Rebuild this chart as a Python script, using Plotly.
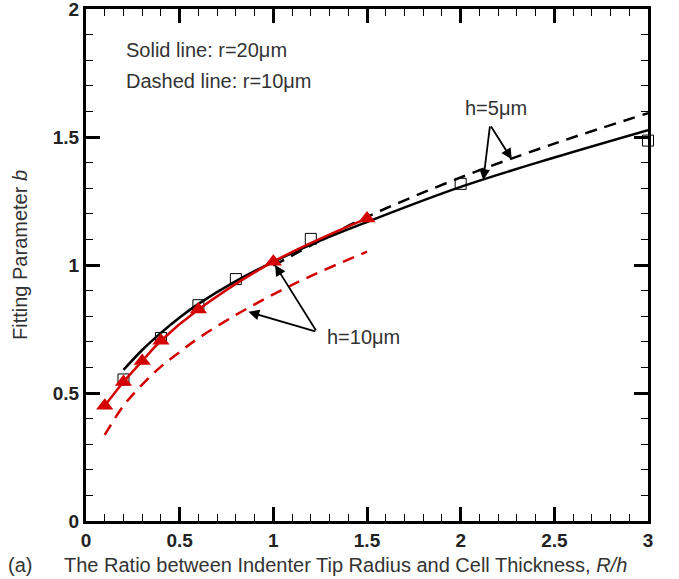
import plotly.graph_objects as go

# ---- data ----
sq_x = [0.2, 0.4, 0.6, 0.8, 1.2, 2.0, 3.0]
sq_y = [0.553, 0.715, 0.843, 0.945, 1.102, 1.317, 1.486]

tri_x = [0.1, 0.2, 0.3, 0.4, 0.6, 1.0, 1.5]
tri_y = [0.450, 0.543, 0.625, 0.704, 0.826, 1.013, 1.182]

blk_solid_x = [0.2, 0.3, 0.4, 0.5, 0.6, 0.8, 1.0, 1.25, 1.5, 2.0, 2.5, 3.0]
blk_solid_y = [0.590, 0.668, 0.735, 0.795, 0.848, 0.937, 1.012, 1.095, 1.168, 1.305, 1.420, 1.527]

blk_dash_x = [1.0, 1.25, 1.5, 2.0, 2.5, 3.0]
blk_dash_y = [0.997, 1.096, 1.188, 1.342, 1.474, 1.593]

red_dash_x = [0.1, 0.2, 0.3, 0.4, 0.5, 0.6, 0.8, 1.0, 1.2, 1.5]
red_dash_y = [0.336, 0.450, 0.533, 0.603, 0.660, 0.714, 0.805, 0.885, 0.957, 1.052]

x_ticks = [0, 0.5, 1, 1.5, 2, 2.5, 3]
x_tick_text = ["0", "0.5", "1", "1.5", "2", "2.5", "3"]
y_ticks = [0, 0.5, 1, 1.5, 2]
y_tick_text = ["0", "0.5", "1", "1.5", "2"]

RED = "#d40000"
FONT = "Liberation Sans, Arial, Helvetica, sans-serif"

fig = go.Figure()

fig.add_trace(go.Scatter(x=blk_solid_x, y=blk_solid_y, mode="lines",
                         line=dict(color="black", width=2.5, shape="spline"),
                         cliponaxis=False, showlegend=False))
fig.add_trace(go.Scatter(x=blk_dash_x, y=blk_dash_y, mode="lines",
                         line=dict(color="black", width=2.5, dash="12px,8px", shape="spline"),
                         cliponaxis=False, showlegend=False))
fig.add_trace(go.Scatter(x=red_dash_x, y=red_dash_y, mode="lines",
                         line=dict(color=RED, width=2.5, dash="12px,8px", shape="spline"),
                         cliponaxis=False, showlegend=False))
fig.add_trace(go.Scatter(x=sq_x, y=sq_y, mode="markers",
                         marker=dict(symbol="square-open", size=11, color="black",
                                     line=dict(width=1, color="black")),
                         cliponaxis=False, showlegend=False))
fig.add_trace(go.Scatter(x=tri_x, y=tri_y, mode="lines+markers",
                         line=dict(color=RED, width=2.5, shape="spline"),
                         marker=dict(symbol="triangle-up", size=15, color=RED),
                         cliponaxis=False, showlegend=False))

axis_common = dict(
    showline=True, linewidth=3, linecolor="black", mirror="allticks",
    ticks="inside", ticklen=14, tickwidth=3, tickcolor="black",
    showgrid=False, zeroline=False, automargin=False,
    ticklabeloverflow="allow",
    tickfont=dict(family=FONT, size=19, color="#222222", weight="bold"),
    minor=dict(ticks="inside", ticklen=7, tickwidth=1.2, tickcolor="black",
               dtick=0.1, showgrid=False),
)

fig.update_xaxes(range=[0, 3], tickvals=x_ticks, ticktext=x_tick_text, **axis_common)
fig.update_yaxes(range=[0, 2], tickvals=y_ticks, ticktext=y_tick_text, **axis_common)

annos = []
txt_font = dict(family=FONT, size=20, color="#333333")
annos.append(dict(x=0.203, y=1.84, xref="x", yref="y", text="Solid line: r=20\u03bcm",
                  showarrow=False, xanchor="left", yanchor="middle", font=txt_font))
annos.append(dict(x=0.203, y=1.718, xref="x", yref="y", text="Dashed line: r=10\u03bcm",
                  showarrow=False, xanchor="left", yanchor="middle", font=txt_font))
annos.append(dict(x=2.013, y=1.613, xref="x", yref="y", text="h=5\u03bcm",
                  showarrow=False, xanchor="left", yanchor="middle", font=txt_font))
annos.append(dict(x=1.276, y=0.718, xref="x", yref="y", text="h=10\u03bcm",
                  showarrow=False, xanchor="left", yanchor="middle", font=txt_font))

# arrows (head at x,y ; tail at ax,ay)
arrows = [
    (2.121, 1.332, 2.157, 1.547),
    (2.273, 1.413, 2.157, 1.547),
    (1.009, 1.000, 1.232, 0.739),
    (0.867, 0.817, 1.232, 0.739),
]
for hx, hy, tx, ty in arrows:
    annos.append(dict(x=hx, y=hy, ax=tx, ay=ty, xref="x", yref="y", axref="x", ayref="y",
                      text="", showarrow=True, arrowhead=2, arrowsize=1.2, arrowwidth=1.8,
                      arrowcolor="black", standoff=0, startstandoff=0))

# axis titles as annotations
annos.append(dict(x=-0.1423, y=-0.086, xref="paper", yref="paper", text="(a)",
                  showarrow=False, xanchor="left", yanchor="middle", font=txt_font))
annos.append(dict(x=-0.0427, y=-0.086, xref="paper", yref="paper",
                  text="The Ratio between Indenter Tip Radius and Cell Thickness, <i>R/h</i>",
                  showarrow=False, xanchor="left", yanchor="middle", font=txt_font))
annos.append(dict(x=-0.117, y=0.52, xref="paper", yref="paper",
                  text="Fitting Parameter <i>b</i>", textangle=-90,
                  showarrow=False, xanchor="center", yanchor="middle", font=txt_font))

fig.update_layout(
    width=679, height=579,
    margin=dict(l=86, r=31, t=9, b=58, autoexpand=False),
    paper_bgcolor="white", plot_bgcolor="white",
    annotations=annos,
    font=dict(family=FONT),
)

fig.write_html("out.html", config={"displayModeBar": False},
               post_script="document.body.style.margin='0';document.body.style.padding='0';")
